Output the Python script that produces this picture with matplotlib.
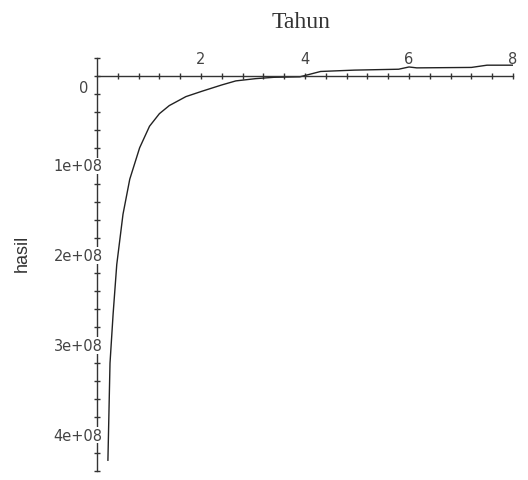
import matplotlib
matplotlib.use("Agg")
import matplotlib.pyplot as plt
import numpy as np

# data (y in units of 1e8, plotted downward)
tahun = [0.21, 0.25, 0.31, 0.38, 0.50, 0.63, 0.82, 1.01, 1.20, 1.39, 1.71, 2.02,
         2.40, 2.67, 3.05, 3.40, 3.90, 4.30, 4.95, 5.80, 6.00, 6.15, 7.20, 7.50, 8.00]
hasil_e8 = [4.28, 3.20, 2.65, 2.10, 1.54, 1.15, 0.80, 0.56, 0.42, 0.33, 0.23, 0.17,
            0.10, 0.055, 0.03, 0.015, 0.01, -0.05, -0.065, -0.075, -0.10, -0.09, -0.095, -0.12, -0.12]
hasil = [v * 1e8 for v in hasil_e8]

xticks_major = [2, 4, 6, 8]
xtick_labels = ["2", "4", "6", "8"]
yticks_major = [0, 1e8, 2e8, 3e8, 4e8]
ytick_labels = ["0", "1e+08", "2e+08", "3e+08", "4e+08"]

W, H = 528, 481
fig = plt.figure(figsize=(W / 100, H / 100), dpi=100)
fig.patch.set_facecolor("white")

x0, x1 = 97, 513
ytop, ybot = 59, 472
ax = fig.add_axes([x0 / W, 1 - ybot / H, (x1 - x0) / W, (ybot - ytop) / H])
ax.set_facecolor("none")
ax.set_xlim(0, 8)
ax.set_ylim(4.4e8, -0.2e8)

ax.plot(tahun, hasil, color="#222222", lw=1.0)

for s in ["right", "bottom"]:
    ax.spines[s].set_visible(False)
ax.spines["top"].set_position(("data", 0))
ax.spines["left"].set_position(("data", 0))
for s in ["top", "left"]:
    ax.spines[s].set_color("#333333")
    ax.spines[s].set_linewidth(1.0)

ax.xaxis.set_ticks_position("top")
ax.set_xticks(xticks_major)
ax.set_xticks(np.arange(0.4, 8.01, 0.4), minor=True)
ax.set_xticklabels([])
ax.set_yticks(yticks_major)
ax.set_yticks(np.arange(-0.2e8, 4.41e8, 0.2e8), minor=True)
ax.set_yticklabels([])
ax.tick_params(which="both", direction="inout", length=5, width=1.0, color="#333333")

tfont = dict(family="DejaVu Sans", fontsize=10.5, color="#444444")
for xv, lab in zip(xticks_major, xtick_labels):
    ax.annotate(lab, xy=(xv, 0), xycoords="data", xytext=(0, 7), textcoords="offset points",
                ha="center", va="bottom", **tfont)

for yv, lab in zip(yticks_major, ytick_labels):
    if lab == "0":
        ax.annotate(lab, xy=(0, yv), xycoords="data", xytext=(-6, -8), textcoords="offset points",
                    ha="right", va="center", **tfont)
    else:
        ax.annotate(lab, xy=(0, yv), xycoords="data", xytext=(4, 0), textcoords="offset points",
                    ha="right", va="center",
                    bbox=dict(boxstyle="square,pad=0.05", fc="white", ec="none"), **tfont)

fig.text(301 / W, 1 - 23 / H, "Tahun", family="Liberation Serif", fontsize=17,
         ha="center", va="center", color="#333333")
fig.text(22 / W, 1 - 253 / H, "hasil", family="Liberation Sans", fontsize=13,
         ha="center", va="center", rotation=90, color="#333333")

fig.savefig("out.png", dpi=100, facecolor="white")
